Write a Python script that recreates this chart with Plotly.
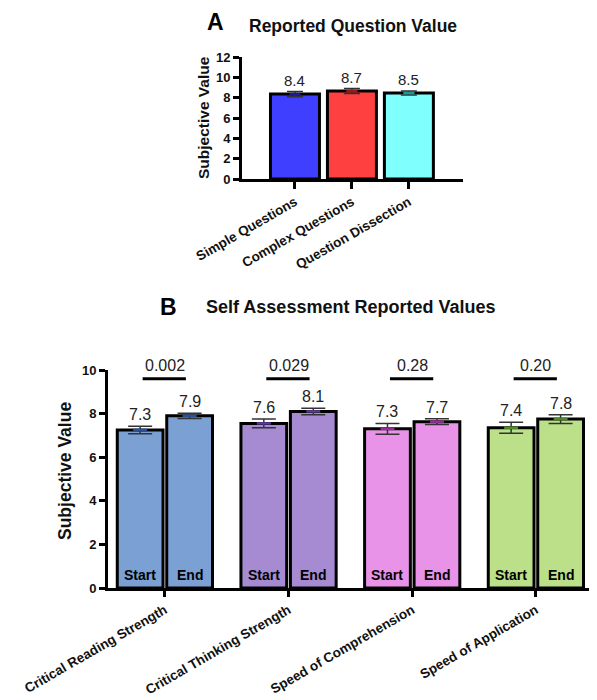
import plotly.graph_objects as go

# ---------------- data ----------------
a_categories = ["Simple Questions", "Complex Questions", "Question Dissection"]
a_values = [8.35, 8.65, 8.45]
a_errors = [0.25, 0.25, 0.2]
a_labels = ["8.4", "8.7", "8.5"]
a_colors = ["#3F3FFF", "#FF4040", "#80FFFF"]
a_dark = ["#1a1a99", "#991a1a", "#1a9999"]

b_categories = ["Critical Reading Strength", "Critical Thinking Strength",
                "Speed of Comprehension", "Speed of Application"]
b_start = [7.25, 7.55, 7.3, 7.35]
b_start_err = [0.17, 0.2, 0.25, 0.25]
b_end = [7.9, 8.1, 7.63, 7.75]
b_end_err = [0.12, 0.15, 0.13, 0.2]
b_start_labels = ["7.3", "7.6", "7.3", "7.4"]
b_end_labels = ["7.9", "8.1", "7.7", "7.8"]
b_pvalues = ["0.002", "0.029", "0.28", "0.20"]
b_colors = ["#7BA0D4", "#A68BD2", "#E893E8", "#BCDF8A"]
b_dark = ["#2a4f99", "#5a3a99", "#992a99", "#4a8a2a"]

FONT = "Liberation Sans, Arial, sans-serif"
OFF = 8  # page body margin
W, H = 597 - OFF, 700 - OFF


def px(x):
    return (x - OFF) / W


def py(y):
    return 1 - (y - OFF) / H


fig = go.Figure()

# ---------------- panel A ----------------
a_x = list(range(len(a_categories)))
fig.add_trace(go.Bar(
    x=a_x, y=a_values, width=0.86,
    marker=dict(color=a_colors, line=dict(color="black", width=3)),
    error_y=dict(type="data", array=a_errors, color="#333333", thickness=1.5, width=8),
    xaxis="x", yaxis="y", showlegend=False, hoverinfo="skip"))
fig.add_trace(go.Scatter(
    x=a_x, y=a_values, mode="markers",
    marker=dict(symbol="line-ew-open", size=8, color=a_dark, line=dict(width=2.5)),
    xaxis="x", yaxis="y", showlegend=False, hoverinfo="skip"))

# ---------------- panel B ----------------
off = 0.2
bw = 0.37
xs_start = [i - off for i in range(len(b_categories))]
xs_end = [i + off for i in range(len(b_categories))]
fig.add_trace(go.Bar(
    x=xs_start, y=b_start, width=bw,
    marker=dict(color=b_colors, line=dict(color="black", width=3)),
    error_y=dict(type="data", array=b_start_err, color="#333333", thickness=1.5, width=12),
    xaxis="x2", yaxis="y2", showlegend=False, hoverinfo="skip"))
fig.add_trace(go.Bar(
    x=xs_end, y=b_end, width=bw,
    marker=dict(color=b_colors, line=dict(color="black", width=3)),
    error_y=dict(type="data", array=b_end_err, color="#333333", thickness=1.5, width=12),
    xaxis="x2", yaxis="y2", showlegend=False, hoverinfo="skip"))
fig.add_trace(go.Scatter(
    x=xs_start + xs_end, y=b_start + b_end, mode="markers",
    marker=dict(symbol="line-ew-open", size=10, color=b_dark + b_dark, line=dict(width=2.5)),
    xaxis="x2", yaxis="y2", showlegend=False, hoverinfo="skip"))

annotations = []
shapes = []

B_Y0, B_Y1 = py(588), py(370)


def b_paper_y(v):
    return B_Y0 + (B_Y1 - B_Y0) * v / 10.0


# value labels A
for i, (v, e, t) in enumerate(zip(a_values, a_errors, a_labels)):
    annotations.append(dict(x=i, y=v + e, xref="x", yref="y", text=t, showarrow=False,
                            yanchor="bottom", yshift=1, font=dict(family=FONT, size=15, color="#222")))

# value labels B
for i in range(len(b_categories)):
    annotations.append(dict(x=xs_start[i], y=b_start[i] + b_start_err[i], xref="x2", yref="y2",
                            text=b_start_labels[i], showarrow=False, yanchor="bottom", yshift=1,
                            font=dict(family=FONT, size=16, color="#222")))
    annotations.append(dict(x=xs_end[i], y=b_end[i] + b_end_err[i], xref="x2", yref="y2",
                            text=b_end_labels[i], showarrow=False, yanchor="bottom", yshift=1,
                            font=dict(family=FONT, size=16, color="#222")))
    annotations.append(dict(x=xs_start[i], y=0, xref="x2", yref="y2", text="<b>Start</b>",
                            showarrow=False, yanchor="bottom", yshift=3,
                            font=dict(family=FONT, size=14, color="black")))
    annotations.append(dict(x=xs_end[i], y=0, xref="x2", yref="y2", text="<b>End</b>",
                            showarrow=False, yanchor="bottom", yshift=3,
                            font=dict(family=FONT, size=14, color="black")))
    annotations.append(dict(x=i, y=b_paper_y(10.2), xref="x2", yref="paper", text=b_pvalues[i],
                            showarrow=False, yanchor="middle",
                            font=dict(family=FONT, size=16, color="#222")))
    shapes.append(dict(type="line", xref="x2", yref="y2", x0=i - 0.18, x1=i + 0.17,
                       y0=9.6, y1=9.6, line=dict(color="black", width=3)))

# panel titles and axis titles
annotations += [
    dict(x=px(215), y=py(22), xref="paper", yref="paper", text="<b>A</b>", showarrow=False,
         xanchor="center", yanchor="middle", font=dict(family=FONT, size=23, color="black")),
    dict(x=px(353), y=py(26), xref="paper", yref="paper", text="<b>Reported Question Value</b>",
         xanchor="center", yanchor="middle", showarrow=False,
         font=dict(family=FONT, size=17.5, color="#111")),
    dict(x=px(168), y=py(307), xref="paper", yref="paper", text="<b>B</b>", showarrow=False,
         xanchor="center", yanchor="middle", font=dict(family=FONT, size=23, color="black")),
    dict(x=px(350), y=py(307), xref="paper", yref="paper",
         text="<b>Self Assessment Reported Values</b>", showarrow=False,
         xanchor="center", yanchor="middle", font=dict(family=FONT, size=18, color="#111")),
    dict(x=px(203), y=py(118), xref="paper", yref="paper", text="<b>Subjective Value</b>",
         textangle=-90, showarrow=False, xanchor="center", yanchor="middle",
         font=dict(family=FONT, size=15.5, color="#111")),
    dict(x=px(65), y=py(471), xref="paper", yref="paper", text="<b>Subjective Value</b>",
         textangle=-90, showarrow=False, xanchor="center", yanchor="middle",
         font=dict(family=FONT, size=17.5, color="#111")),
]

axis_common = dict(showline=True, linecolor="black", linewidth=3, ticks="outside",
                   tickwidth=2.5, tickcolor="black", showgrid=False, zeroline=False,
                   automargin=False)

fig.update_layout(
    width=W, height=H,
    margin=dict(l=0, r=0, t=0, b=0),
    paper_bgcolor="white", plot_bgcolor="white",
    barmode="overlay",
    font=dict(family=FONT, color="black"),
    xaxis=dict(domain=[px(242), px(463)], anchor="y", range=[-0.93, 2.95],
               tickvals=a_x, ticktext=["<b>%s</b>" % c for c in a_categories],
               tickangle=-30, ticklen=7, tickfont=dict(family=FONT, size=13.5, color="#111"),
               **axis_common),
    yaxis=dict(domain=[py(179), py(57)], anchor="x", range=[0, 12],
               tickvals=[0, 2, 4, 6, 8, 10, 12], ticktext=["<b>%d</b>" % v for v in [0, 2, 4, 6, 8, 10, 12]],
               ticklen=6, tickfont=dict(family=FONT, size=13, color="#111"),
               **axis_common),
    xaxis2=dict(domain=[px(108), px(594)], anchor="y2", range=[-0.46, 3.47],
                tickvals=list(range(len(b_categories))),
                ticktext=["<b>%s</b>" % c for c in b_categories],
                tickangle=-30, ticklen=6, tickfont=dict(family=FONT, size=13.5, color="#111"),
                **axis_common),
    yaxis2=dict(domain=[B_Y0, B_Y1], anchor="x2", range=[0, 10],
                tickvals=[0, 2, 4, 6, 8, 10], ticktext=["<b>%d</b>" % v for v in [0, 2, 4, 6, 8, 10]],
                ticklen=6, tickfont=dict(family=FONT, size=13, color="#111"),
                **axis_common),
    annotations=annotations,
    shapes=shapes,
)

fig.write_html("out.html")
